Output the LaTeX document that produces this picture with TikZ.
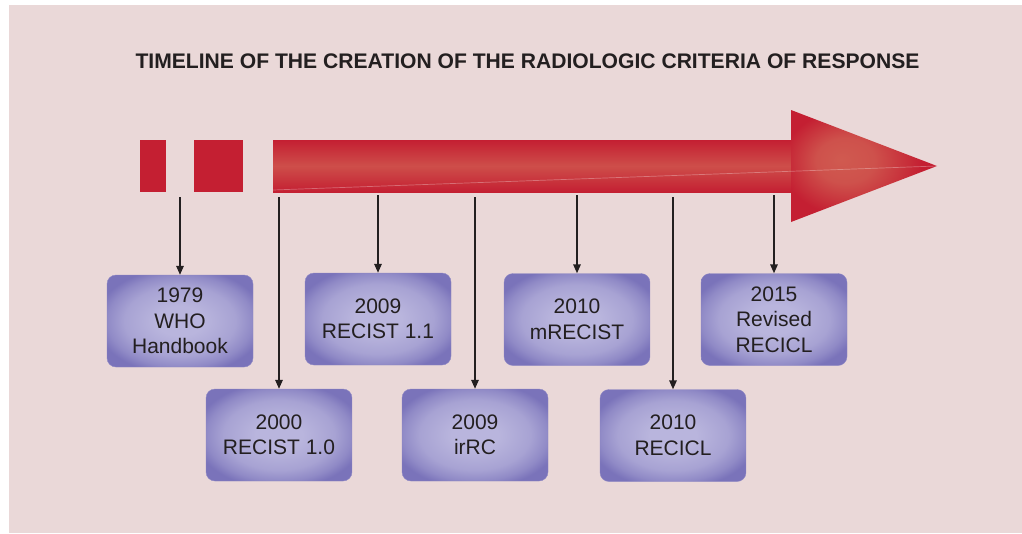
\documentclass[tikz,border=0pt]{standalone}
\usepackage{fontspec}
\setmainfont{Liberation Sans}
\usetikzlibrary{arrows.meta}
\definecolor{bg}{HTML}{EAD8D8}
\definecolor{arrred}{HTML}{C41F32}
\definecolor{arrlight}{HTML}{D05A50}
\definecolor{boxin}{HTML}{B9B5DD}
\definecolor{boxout}{HTML}{7A73BA}
\definecolor{txt}{HTML}{231F20}
\pgfdeclareradialshading{boxshade}{\pgfpoint{0bp}{0bp}}{color(0bp)=(boxin); color(8bp)=(boxin); color(19bp)=(boxin!72!boxout); color(25bp)=(boxin!35!boxout); color(29bp)=(boxout); color(50bp)=(boxout)}
\pgfdeclareradialshading{headshade}{\pgfpoint{-8bp}{3bp}}{color(0bp)=(arrlight); color(10bp)=(arrlight!85!arrred); color(24bp)=(arrred); color(50bp)=(arrred)}
\tikzset{
  yearbox/.style={shading=boxshade, draw=boxout!85!white, line width=0.4pt,
    rounded corners=9pt, minimum width=146pt, minimum height=92pt, inner sep=0pt,
    align=center, text=txt, font=\fontsize{21}{25.5}\selectfont},
  conn/.style={draw=txt, line width=1.6pt, -{Triangle[length=9pt,width=7.5pt]}},
  redblock/.style={fill=arrred, draw=none},
}
\begin{document}
\begin{tikzpicture}[x=1pt,y=-1pt]
\useasboundingbox (0,0) rectangle (1022,533);
\fill[white] (0,0) rectangle (1022,533);
\fill[bg] (9,5) rectangle (1022,533);
% title
\node[font=\bfseries\fontsize{21.1}{24}\selectfont, text=txt] (title) at (527.5,61) {TIMELINE OF THE CREATION OF THE RADIOLOGIC CRITERIA OF RESPONSE};
% red blocks and arrow
\path[redblock] (140,140) rectangle (166,192);
\path[redblock] (194,140) rectangle (243,192);
\shade[top color=arrred, bottom color=arrred, middle color=arrlight!80!arrred] (273,140) rectangle (792,192);
\shade[shading=headshade] (791,110) -- (937,166) -- (791,222) -- cycle;
\draw[white, opacity=0.3, line width=0.7pt] (273,190) -- (937,166);
% boxes
\node[yearbox] (b1) at (180,321) {1979\\WHO\\Handbook};
\node[yearbox] (b2) at (279,435) {2000\\RECIST 1.0};
\node[yearbox] (b3) at (378,319) {2009\\RECIST 1.1};
\node[yearbox] (b4) at (475,435) {2009\\irRC};
\node[yearbox] (b5) at (577,319.5) {2010\\mRECIST};
\node[yearbox] (b6) at (673,435.5) {2010\\RECICL};
\node[yearbox] (b7) at (774,319.5) {2015\\Revised\\RECICL};
% connector tops
\coordinate (t1) at (180,197);
\coordinate (t2) at (279,197);
\coordinate (t3) at (378,195);
\coordinate (t4) at (475,197);
\coordinate (t5) at (577,195);
\coordinate (t6) at (673,197);
\coordinate (t7) at (774,195);
\foreach \i in {1,...,7}{\draw[conn] (t\i) -- (b\i.north);}
\end{tikzpicture}
\end{document}
